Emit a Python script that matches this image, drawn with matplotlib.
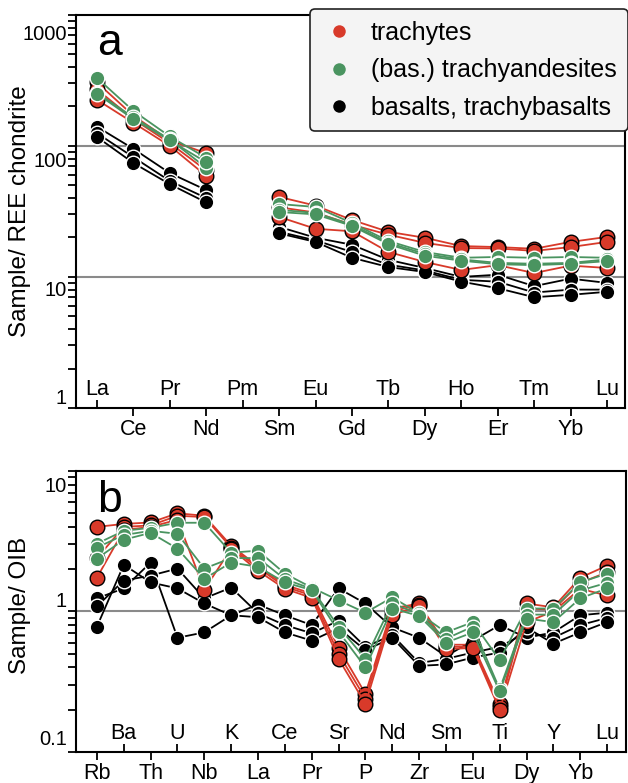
import matplotlib.pyplot as plt
import numpy as np
from matplotlib.lines import Line2D
from matplotlib.ticker import FixedLocator, LogLocator, NullFormatter
from matplotlib.transforms import ScaledTranslation

plt.rcParams['font.family'] = ['Liberation Sans', 'DejaVu Sans']

nan = np.nan

ree = ['La', 'Ce', 'Pr', 'Nd', 'Pm', 'Sm', 'Eu', 'Gd', 'Tb', 'Dy', 'Ho', 'Er', 'Tm', 'Yb', 'Lu']
spider = ['Rb', 'Ba', 'Th', 'U', 'Nb', 'K', 'La', 'Ce', 'Pr', 'Sr', 'P', 'Nd', 'Zr', 'Sm',
          'Eu', 'Ti', 'Dy', 'Y', 'Yb', 'Lu']

# sample / REE chondrite
ree_trachytes = [
    [305, 170, 110, 88, nan, 40.8, 35.0, 27.2, 22.1, 19.9, 17.2, 16.9, 16.4, 18.5, 20.2],
    [270, 160, 105, 65, nan, 34.0, 31.0, 25.0, 21.0, 18.2, 16.6, 16.5, 15.8, 16.9, 18.5],
    [225, 150, 100, 59, nan, 28.7, 23.3, 22.3, 15.5, 13.0, 11.3, 12.3, 10.7, 12.2, 11.7],
]
ree_trachyandesites = [
    [330, 185, 118, 81, nan, 36.0, 34.2, 25.8, 18.8, 15.5, 14.0, 14.2, 14.0, 14.2, 14.0],
    [255, 165, 112, 68, nan, 32.5, 30.8, 25.0, 18.2, 15.0, 13.6, 12.8, 12.6, 12.8, 13.6],
    [250, 160, 110, 75, nan, 31.3, 30.0, 24.5, 17.8, 14.5, 13.3, 12.5, 12.3, 12.6, 13.2],
]
ree_basalts = [
    [140, 95, 62, 46, nan, 24.1, 19.9, 17.6, 13.5, 11.7, 10.0, 10.4, 8.5, 9.7, 9.0],
    [125, 82, 54, 40, nan, 22.1, 19.0, 15.5, 12.4, 11.2, 9.5, 9.2, 7.6, 8.0, 8.0],
    [117, 74, 51, 37, nan, 21.5, 18.5, 14.0, 11.9, 10.9, 9.2, 8.2, 7.0, 7.3, 7.7],
]

# sample / OIB
oib_trachytes = [
    [4.0, 4.2, 4.3, 5.0, 4.8, 2.94, 2.1, 1.55, 1.34, 0.55, 0.26, 1.05, 1.14, 0.58, 0.58, 0.22, 1.14, 1.07, 1.74, 2.12],
    [2.4, 4.0, 4.1, 4.8, 4.7, 2.85, 2.05, 1.5, 1.30, 0.50, 0.24, 1.00, 1.12, 0.56, 0.56, 0.21, 1.05, 1.03, 1.60, 1.90],
    [1.74, 3.8, 4.0, 4.5, 1.43, 2.80, 1.95, 1.45, 1.25, 0.46, 0.22, 0.94, 1.10, 0.54, 0.55, 0.20, 0.84, 1.00, 1.45, 1.30],
]
oib_trachyandesites = [
    [3.04, 3.75, 3.94, 4.28, 4.28, 2.62, 2.71, 1.86, 1.48, 1.20, 0.98, 1.26, 0.97, 0.71, 0.84, 0.45, 1.05, 1.05, 1.61, 1.86],
    [2.85, 3.50, 3.75, 3.57, 2.02, 2.40, 2.40, 1.70, 1.45, 0.78, 0.46, 1.15, 0.95, 0.64, 0.78, 0.28, 0.95, 0.95, 1.41, 1.60],
    [2.38, 3.24, 3.63, 2.80, 1.71, 2.23, 2.08, 1.61, 1.42, 0.72, 0.40, 1.05, 0.93, 0.60, 0.71, 0.27, 0.89, 0.84, 1.24, 1.46],
]
oib_basalts = [
    [1.24, 1.46, 2.23, 0.65, 0.71, 0.94, 1.12, 0.94, 0.80, 1.46, 1.14, 0.77, 0.65, 0.48, 0.62, 0.80, 0.65, 0.71, 0.94, 0.98],
    [1.09, 1.66, 1.80, 2.02, 1.24, 1.48, 0.97, 0.80, 0.70, 0.86, 0.56, 0.68, 0.43, 0.46, 0.51, 0.56, 0.71, 0.65, 0.80, 0.90],
    [0.78, 2.15, 1.61, 1.46, 1.14, 0.94, 0.91, 0.71, 0.62, 0.76, 0.53, 0.65, 0.41, 0.42, 0.47, 0.51, 0.77, 0.59, 0.71, 0.84],
]

RED = '#d83a2a'
GREEN = '#4a9460'
BLACK = '#000000'


def plot_group(ax, data, color, edge):
    x = np.arange(len(data[0]))
    for row in data:
        ax.plot(x, row, '-o', color=color, lw=1.3, ms=10.5, mfc=color, mec=edge, mew=1.0)


def style_axis(ax, names, inner_first, yticks, ylabels, vas, shifts):
    ax.set_yscale('log')
    ax.set_ylim(yticks[0], yticks[-1])
    ax.yaxis.set_major_locator(FixedLocator(yticks))
    ax.yaxis.set_minor_locator(LogLocator(base=10, subs=np.arange(2, 10)))
    ax.yaxis.set_minor_formatter(NullFormatter())
    ax.set_yticklabels(ylabels)
    for y in yticks[1:-1]:
        ax.axhline(y, color='#8a8a8a', lw=1.5, zorder=0)

    idx = np.arange(len(names))
    inner = idx[(idx % 2) == (0 if inner_first else 1)]
    outer = idx[(idx % 2) == (1 if inner_first else 0)]
    ax.set_xticks(outer, [names[i] for i in outer])
    ax.set_xticks(inner, [names[i] for i in inner], minor=True)
    ax.tick_params(axis='x', which='major', direction='out', length=5.5, width=1.3,
                   pad=2.5, labelsize=15.5)
    ax.tick_params(axis='x', which='minor', direction='in', length=5.5, width=1.3,
                   pad=-21, labelsize=15.5)
    ax.tick_params(axis='y', which='both', direction='out', length=5.5, width=1.3,
                   pad=1, labelsize=14.5)
    for s in ax.spines.values():
        s.set_linewidth(1.5)
    # the value labels sit a little off their ticks in the original
    for tick, va, dy in zip(ax.yaxis.get_major_ticks(), vas, shifts):
        lbl = tick.label1
        lbl.set_va(va)
        lbl.set_transform(lbl.get_transform() +
                          ScaledTranslation(0, dy / 72, ax.figure.dpi_scale_trans))


fig = plt.figure(figsize=(6.28, 7.83), dpi=100)
ax1 = fig.add_axes([0.121, 0.479, 0.874, 0.502])
ax2 = fig.add_axes([0.121, 0.0396, 0.876, 0.3589])

plot_group(ax1, ree_basalts, BLACK, 'white')
plot_group(ax1, ree_trachytes, RED, 'black')
plot_group(ax1, ree_trachyandesites, GREEN, 'white')
ax1.set_xlim(-0.576, 14.49)
style_axis(ax1, ree, True, [1, 10, 100, 1000], ['1', '10', '100', '1000'],
           ['bottom', 'top', 'top', 'top'], [0, -3, -4.5, -7])
ax1.set_ylabel('Sample/ REE chondrite', fontsize=17.5)
ax1.yaxis.set_label_coords(-0.082, 0.5)
ax1.text(0.038, 0.898, 'a', transform=ax1.transAxes, fontsize=32, va='baseline')

plot_group(ax2, oib_basalts, BLACK, 'white')
plot_group(ax2, oib_trachytes, RED, 'black')
plot_group(ax2, oib_trachyandesites, GREEN, 'white')
ax2.set_xlim(-0.78, 19.71)
style_axis(ax2, spider, False, [0.1, 1, 10], ['0.1', '1', '10'],
           ['bottom', 'bottom', 'top'], [2, 0, -4.5])
ax2.set_ylabel('Sample/ OIB', fontsize=17.5)
ax2.yaxis.set_label_coords(-0.082, 0.52)
ax2.text(0.038, 0.854, 'b', transform=ax2.transAxes, fontsize=32, va='baseline')

handles = [Line2D([], [], ls='none', marker='o', ms=9, color=c, mec='none')
           for c in (RED, GREEN, BLACK)]
leg = fig.legend(handles, ['trachytes', '(bas.) trachyandesites', 'basalts, trachybasalts'],
                 loc='upper right', bbox_to_anchor=(1.0, 0.988), borderaxespad=0,
                 fontsize=18, labelspacing=0.55, handletextpad=0.6, handlelength=1.4,
                 borderpad=0.45, fancybox=True, framealpha=1)
leg.get_frame().set_facecolor('#f4f4f4')
leg.get_frame().set_edgecolor('#222222')
leg.get_frame().set_linewidth(1.2)

fig.savefig('out.png', dpi=100)
